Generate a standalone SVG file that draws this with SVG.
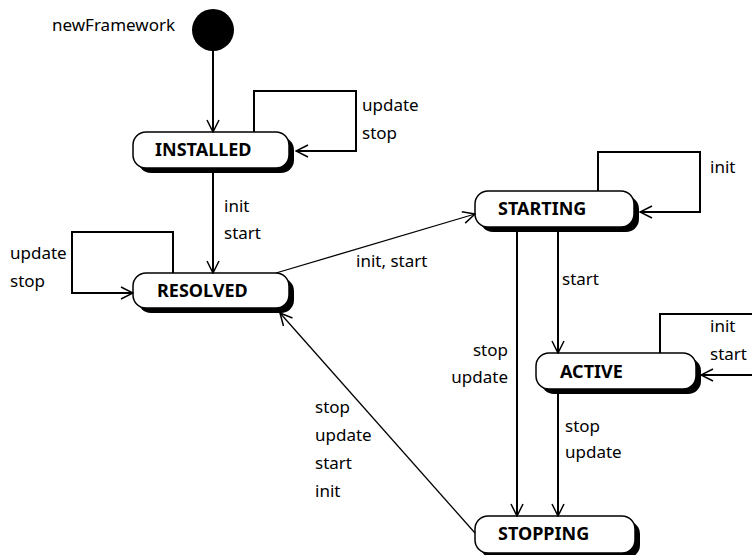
<svg xmlns="http://www.w3.org/2000/svg" width="752" height="555" viewBox="0 0 752 555">
<defs>
<marker id="arr" viewBox="0 0 14 14" refX="13" refY="7" markerWidth="14" markerHeight="14" markerUnits="userSpaceOnUse" orient="auto">
<path d="M1,1 L13,7 L1,13" fill="none" stroke="#000" stroke-width="1.5"/>
</marker>
</defs>
<style>
.shadow{fill:#000}
.box{fill:#fff;stroke:#000;stroke-width:1.5}
.name{font-family:"Noto Sans","DejaVu Sans",sans-serif;font-weight:bold;font-size:18px;fill:#000}
.lbl{font-family:"Noto Sans","DejaVu Sans",sans-serif;font-size:17px;fill:#000}
.c{fill:none;stroke:#000;stroke-width:2;marker-end:url(#arr)}
.d{fill:none;stroke:#000;stroke-width:1.3;marker-end:url(#arr)}
</style>
<rect width="752" height="555" fill="#fff"/>
<g id="initial">
<circle cx="213" cy="30" r="21" fill="#000"/>
<text class="lbl" x="52" y="31">newFramework</text>
</g>
<g id="installed">
<rect class="shadow" x="138" y="137" width="156" height="36" rx="13"/>
<rect class="box" x="133" y="132" width="156" height="36" rx="13"/>
<text class="name" x="155" y="156">INSTALLED</text>
</g>
<g id="resolved">
<rect class="shadow" x="138" y="278" width="156" height="35" rx="13"/>
<rect class="box" x="133" y="273" width="156" height="35" rx="13"/>
<text class="name" x="157" y="297">RESOLVED</text>
</g>
<g id="starting">
<rect class="shadow" x="480" y="196" width="159" height="36" rx="13"/>
<rect class="box" x="475" y="191" width="159" height="36" rx="13"/>
<text class="name" x="498" y="215">STARTING</text>
</g>
<g id="active">
<rect class="shadow" x="541" y="358" width="160" height="36" rx="13"/>
<rect class="box" x="536" y="353" width="160" height="36" rx="13"/>
<text class="name" x="560" y="378">ACTIVE</text>
</g>
<g id="stopping">
<rect class="shadow" x="480" y="521" width="160" height="37" rx="13"/>
<rect class="box" x="475" y="516" width="160" height="37" rx="13"/>
<text class="name" x="498" y="540">STOPPING</text>
</g>
<g id="connectors">
<path class="c" d="M213,51 L213,132"/>
<path class="c" d="M254,132 L254,91 L356,91 L356,151 L296,151"/>
<path class="c" d="M213,173 L213,273"/>
<path class="c" d="M173,273 L173,232 L72,232 L72,293 L133,293"/>
<path class="d" d="M276,273 L475,214"/>
<path class="c" d="M598,191 L598,152 L700,152 L700,212 L640,212"/>
<path class="c" d="M517,232 L517,516"/>
<path class="c" d="M558,232 L558,353"/>
<path class="c" d="M660,353 L660,314 L760,314 L760,375 L701,375"/>
<path class="c" d="M558,394 L558,516"/>
<path class="d" d="M475,533 L280,313"/>
</g>
<g id="labels">
<text class="lbl" x="362" y="111">update</text>
<text class="lbl" x="362" y="139">stop</text>
<text class="lbl" x="224" y="212">init</text>
<text class="lbl" x="224" y="239">start</text>
<text class="lbl" x="10" y="259">update</text>
<text class="lbl" x="10" y="287">stop</text>
<text class="lbl" x="356" y="267">init, start</text>
<text class="lbl" x="710" y="173">init</text>
<text class="lbl" x="562" y="285">start</text>
<text class="lbl" x="508" y="356" text-anchor="end">stop</text>
<text class="lbl" x="508" y="383" text-anchor="end">update</text>
<text class="lbl" x="710" y="332">init</text>
<text class="lbl" x="710" y="360">start</text>
<text class="lbl" x="565" y="432">stop</text>
<text class="lbl" x="565" y="458">update</text>
<text class="lbl" x="315" y="413">stop</text>
<text class="lbl" x="315" y="441">update</text>
<text class="lbl" x="315" y="469">start</text>
<text class="lbl" x="315" y="497">init</text>
</g>
</svg>
